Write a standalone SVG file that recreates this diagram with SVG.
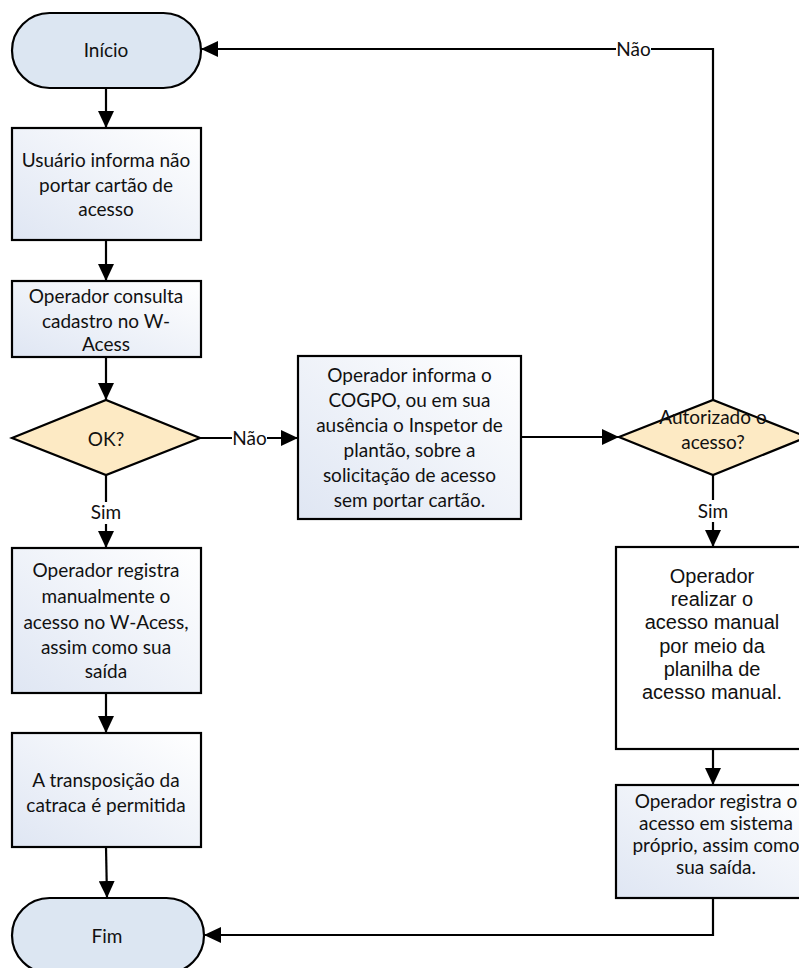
<svg xmlns="http://www.w3.org/2000/svg" width="799" height="968" viewBox="0 0 799 968">
<defs>
<linearGradient id="g" x1="1" y1="0" x2="0" y2="1">
<stop offset="0" stop-color="#ffffff"/>
<stop offset="1" stop-color="#dfe6f3"/>
</linearGradient>
<marker id="ah" markerUnits="userSpaceOnUse" markerWidth="18" markerHeight="16" refX="17" refY="8" orient="auto">
<path d="M0,0 L17,8 L0,16 z" fill="#000"/>
</marker>
<style>
.s{stroke:#000;stroke-width:2.2;}
.term{fill:#dce6f2;}
.box{fill:url(#g);}
.wbox{fill:#ffffff;}
.dia{fill:#fdeac4;}
.t{font-family:Lato,"Noto Sans","Liberation Sans",sans-serif;font-size:19px;fill:#111;text-anchor:middle;}
.a{font-family:"Liberation Sans",Arial,sans-serif;font-size:20px;fill:#111;text-anchor:middle;}
.c{fill:none;stroke:#000;stroke-width:2.2;}
.lb{fill:#fff;}
</style>
</defs>
<g id="connectors">
<path class="c" d="M106,88 L106,128" marker-end="url(#ah)"/>
<path class="c" d="M106,240 L106,281" marker-end="url(#ah)"/>
<path class="c" d="M106,357 L106,400" marker-end="url(#ah)"/>
<path class="c" d="M200,438 L298,438" marker-end="url(#ah)"/>
<path class="c" d="M106,475 L106,548" marker-end="url(#ah)"/>
<path class="c" d="M106,693 L106,733" marker-end="url(#ah)"/>
<path class="c" d="M106,847 L107,898" marker-end="url(#ah)"/>
<path class="c" d="M521,437 L619,437" marker-end="url(#ah)"/>
<path class="c" d="M713,400 L713,49 L201,49" marker-end="url(#ah)"/>
<path class="c" d="M713,475 L713,547" marker-end="url(#ah)"/>
<path class="c" d="M713,749 L713,785" marker-end="url(#ah)"/>
<path class="c" d="M713,898 L713,935 L204,935" marker-end="url(#ah)"/>
<rect class="lb" x="232" y="428" width="35" height="20"/>
<text class="t" x="249.5" y="445">Não</text>
<rect class="lb" x="88" y="502" width="36" height="22"/>
<text class="t" x="106" y="519">Sim</text>
<rect class="lb" x="616" y="39" width="35" height="20"/>
<text class="t" x="633.5" y="56">Não</text>
<rect class="lb" x="695" y="500" width="36" height="22"/>
<text class="t" x="713" y="518">Sim</text>
</g>
<g id="inicio">
<rect class="term s" x="12" y="13" width="189" height="75" rx="37.5"/>
<text class="t" x="106" y="57">Início</text>
</g>
<g id="usuario">
<rect class="box s" x="12" y="128" width="189" height="112"/>
<text class="t" x="106" y="167">Usuário informa não</text>
<text class="t" x="106" y="192">portar cartão de</text>
<text class="t" x="106" y="216">acesso</text>
</g>
<g id="consulta">
<rect class="box s" x="12" y="281" width="189" height="76"/>
<text class="t" x="106" y="303">Operador consulta</text>
<text class="t" x="106" y="328">cadastro no W-</text>
<text class="t" x="106" y="351">Acess</text>
</g>
<g id="ok">
<polygon class="dia s" points="12,438 106,400 200,438 106,475"/>
<text class="t" x="106" y="446">OK?</text>
</g>
<g id="informa">
<rect class="box s" x="298" y="356" width="223" height="163"/>
<text class="t" x="409.5" y="382">Operador informa o</text>
<text class="t" x="409.5" y="407">COGPO, ou em sua</text>
<text class="t" x="409.5" y="432">ausência o Inspetor de</text>
<text class="t" x="409.5" y="457">plantão, sobre a</text>
<text class="t" x="409.5" y="482">solicitação de acesso</text>
<text class="t" x="409.5" y="507">sem portar cartão.</text>
</g>
<g id="autorizado">
<polygon class="dia s" points="619,437 713,400 807,437 713,475"/>
<text class="t" x="713" y="424">Autorizado o</text>
<text class="t" x="713" y="449">acesso?</text>
</g>
<g id="registra">
<rect class="box s" x="12" y="548" width="189" height="145"/>
<text class="t" x="106" y="577">Operador registra</text>
<text class="t" x="106" y="603">manualmente o</text>
<text class="t" x="106" y="629">acesso no  W-Acess,</text>
<text class="t" x="106" y="654">assim como sua</text>
<text class="t" x="106" y="678">saída</text>
</g>
<g id="transposicao">
<rect class="box s" x="12" y="733" width="189" height="114"/>
<text class="t" x="106" y="787">A transposição da</text>
<text class="t" x="106" y="812">catraca é permitida</text>
</g>
<g id="realizar">
<rect class="wbox s" x="616" y="547" width="194" height="202"/>
<text class="a" x="712" y="583">Operador</text>
<text class="a" x="712" y="606">realizar o</text>
<text class="a" x="712" y="629">acesso manual</text>
<text class="a" x="712" y="653">por meio da</text>
<text class="a" x="712" y="676">planilha de</text>
<text class="a" x="712" y="699">acesso manual.</text>
</g>
<g id="sistema">
<rect class="box s" x="616" y="785" width="194" height="113"/>
<text class="t" x="716" y="808">Operador registra o</text>
<text class="t" x="716" y="830">acesso em sistema</text>
<text class="t" x="716" y="852">próprio, assim como</text>
<text class="t" x="716" y="874">sua saída.</text>
</g>
<g id="fim">
<rect class="term s" x="12" y="898" width="192" height="75" rx="37.5"/>
<text class="t" x="107" y="943">Fim</text>
</g>
</svg>
